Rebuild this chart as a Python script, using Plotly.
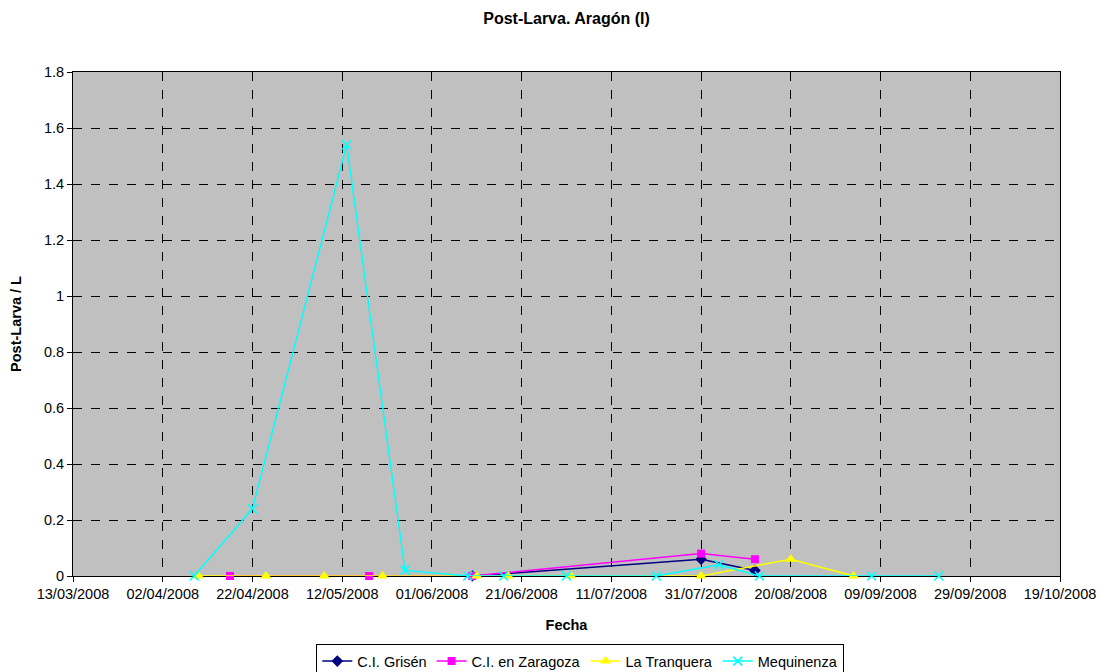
import plotly.graph_objects as go

# Data
grisen_dates = ["2008-06-10", "2008-07-31", "2008-08-12"]
grisen_vals = [0.0, 0.06, 0.02]

zaragoza_dates = ["2008-04-17", "2008-05-18", "2008-06-10", "2008-07-31", "2008-08-12"]
zaragoza_vals = [0.0, 0.0, 0.0, 0.08, 0.06]

tranquera_dates = ["2008-04-10", "2008-04-25", "2008-05-08", "2008-05-21", "2008-06-11",
                   "2008-06-18", "2008-07-02", "2008-07-31", "2008-08-20", "2008-09-03"]
tranquera_vals = [0, 0, 0, 0, 0, 0, 0, 0, 0.06, 0]

mequinenza_dates = ["2008-04-09", "2008-04-22", "2008-05-13", "2008-05-26", "2008-06-09",
                    "2008-06-17", "2008-07-01", "2008-07-21", "2008-08-04", "2008-08-13",
                    "2008-09-07", "2008-09-22"]
mequinenza_vals = [0, 0.24, 1.54, 0.02, 0, 0, 0, 0, 0.04, 0, 0, 0]

tick_dates = ["2008-03-13", "2008-04-02", "2008-04-22", "2008-05-12", "2008-06-01", "2008-06-21",
              "2008-07-11", "2008-07-31", "2008-08-20", "2008-09-09", "2008-09-29", "2008-10-19"]
tick_labels = ["13/03/2008", "02/04/2008", "22/04/2008", "12/05/2008", "01/06/2008", "21/06/2008",
               "11/07/2008", "31/07/2008", "20/08/2008", "09/09/2008", "29/09/2008", "19/10/2008"]

y_ticks = [0, 0.2, 0.4, 0.6, 0.8, 1.0, 1.2, 1.4, 1.6, 1.8]
y_labels = ["0", "0.2", "0.4", "0.6", "0.8", "1", "1.2", "1.4", "1.6", "1.8"]

FS = 14.5

fig = go.Figure()
fig.add_trace(go.Scatter(x=grisen_dates, y=grisen_vals, name="C.I. Grisén", mode="lines+markers",
                         cliponaxis=False,
                         line=dict(color="#000080", width=1.5),
                         marker=dict(symbol="diamond", size=9, color="#000080")))
fig.add_trace(go.Scatter(x=zaragoza_dates, y=zaragoza_vals, name="C.I. en Zaragoza", mode="lines+markers",
                         cliponaxis=False,
                         line=dict(color="#FF00FF", width=1.5),
                         marker=dict(symbol="square", size=8, color="#FF00FF")))
fig.add_trace(go.Scatter(x=tranquera_dates, y=tranquera_vals, name="La Tranquera", mode="lines+markers",
                         cliponaxis=False,
                         line=dict(color="#FFFF00", width=1.5),
                         marker=dict(symbol="triangle-up", size=10, color="#FFFF00")))
fig.add_trace(go.Scatter(x=mequinenza_dates, y=mequinenza_vals, name="Mequinenza", mode="lines+markers",
                         cliponaxis=False,
                         line=dict(color="#00FFFF", width=1.5),
                         marker=dict(symbol="x-thin", size=9, color="#00FFFF",
                                     line=dict(color="#00FFFF", width=1.5))))

fig.update_layout(
    width=1103, height=672,
    paper_bgcolor="white", plot_bgcolor="#C0C0C0",
    font=dict(family="Liberation Sans, Arial, sans-serif", size=FS, color="black"),
    title=dict(text="<b>Post-Larva. Aragón (I)</b>", xref="paper", x=0.5, xanchor="center",
               y=0.972, yanchor="middle", font=dict(size=16)),
    margin=dict(l=73, r=43, t=72, b=96, autoexpand=False),
    showlegend=True,
    legend=dict(orientation="h", x=0.514, xanchor="center", y=-0.169, yanchor="middle",
                bordercolor="black", borderwidth=1, bgcolor="white",
                font=dict(size=FS), tracegroupgap=0, itemwidth=30),
    xaxis=dict(
        type="date", range=["2008-03-13", "2008-10-19"],
        tickvals=tick_dates, ticktext=tick_labels, tickangle=0,
        showgrid=True, gridcolor="black", griddash="dash", gridwidth=1,
        ticks="outside", ticklen=5, tickcolor="black",
        showline=True, linecolor="black", mirror=True, zeroline=False,
        layer="below traces",
        title=dict(text="<b>Fecha</b>", font=dict(size=FS), standoff=18),
        tickfont=dict(size=FS), automargin=False,
    ),
    yaxis=dict(
        range=[0, 1.8], tickvals=y_ticks, ticktext=y_labels,
        showgrid=True, gridcolor="black", griddash="dash", gridwidth=1,
        ticks="outside", ticklen=5, tickcolor="black",
        showline=True, linecolor="black", mirror=True, zeroline=False,
        layer="below traces",
        title=dict(text="<b>Post-Larva / L</b>", font=dict(size=FS), standoff=18),
        tickfont=dict(size=FS), automargin=False,
    ),
)

fig.write_html("out.html", config={"displayModeBar": False},
               post_script="document.body.style.margin='0px';")
